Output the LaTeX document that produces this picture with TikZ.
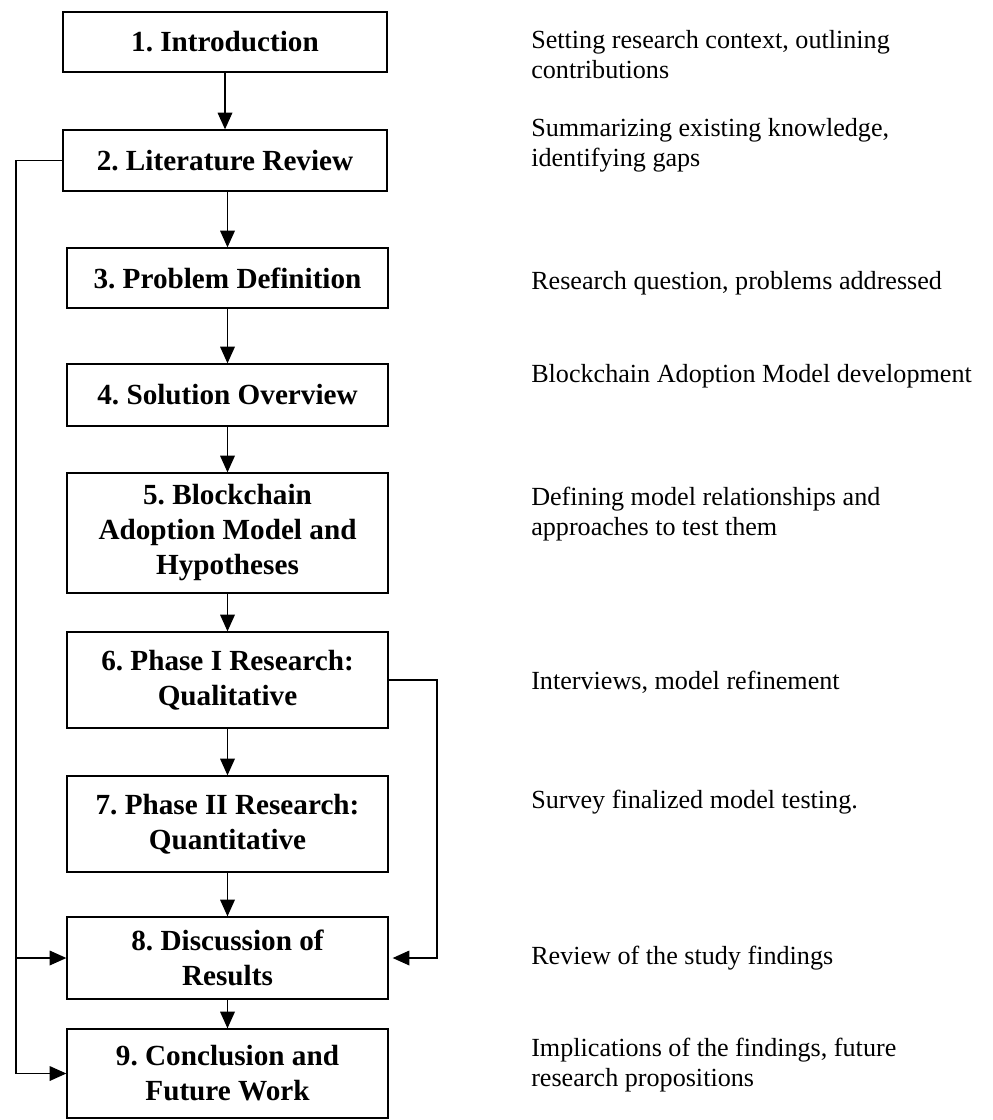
\documentclass[tikz,border=0pt]{standalone}
\usepackage{fontspec}
\setmainfont{Liberation Serif}
\usetikzlibrary{arrows.meta}
\frenchspacing
\begin{document}
\begin{tikzpicture}[x=0.75pt,y=-0.75pt,
  stage/.style={draw,line width=1pt,align=center,inner sep=0pt,
    font=\fontsize{21.9}{26.25}\selectfont\bfseries},
  widestage/.style={stage,minimum width=243pt},
  narrowstage/.style={stage,minimum width=240.75pt},
  note/.style={anchor=west,align=left,inner sep=0pt,
    font=\fontsize{19.6}{22.5}\selectfont},
  flow/.style={line width=0.95pt,-{Triangle[length=12.5pt,width=11pt]}},
  link/.style={line width=0.95pt}]
\useasboundingbox (0,0) rectangle (992,1120);

% chapter boxes
\node[widestage,minimum height=45pt]     (s1) at (225,42)     {1. Introduction};
\node[widestage,minimum height=45.75pt]  (s2) at (225,160.5)  {2. Literature Review};
\node[narrowstage,minimum height=45pt]   (s3) at (227.5,278)  {3. Problem Definition};
\node[narrowstage,minimum height=46.5pt] (s4) at (227.5,395)  {4. Solution Overview};
\node[narrowstage,minimum height=90pt]   (s5) at (227.5,533)  {5. Blockchain\\Adoption Model and\\Hypotheses};
\node[narrowstage,minimum height=72pt]   (s6) at (227.5,680)  {6. Phase I Research:\\Qualitative};
\node[narrowstage,minimum height=72pt]   (s7) at (227.5,824)  {7. Phase II Research:\\Quantitative};
\node[narrowstage,minimum height=61.5pt] (s8) at (227.5,958)  {8. Discussion of\\Results};
\node[narrowstage,minimum height=66.75pt](s9) at (227.5,1073.5){9. Conclusion and\\Future Work};

% chapter descriptions
\node[note] (d1) at (531,55)   {Setting research context, outlining\\contributions};
\node[note] (d2) at (531,145)  {Summarizing existing knowledge,\\identifying gaps};
\node[note] (d3) at (531,283)  {Research question, problems addressed};
\node[note] (d4) at (531,376)  {Blockchain Adoption Model development};
\node[note] (d5) at (531,514)  {Defining model relationships and\\approaches to test them};
\node[note] (d6) at (531,682)  {Interviews, model refinement};
\node[note] (d7) at (531,802)  {Survey finalized model testing.};
\node[note] (d8) at (531,958)  {Review of the study findings};
\node[note] (d9) at (531,1065) {Implications of the findings, future\\research propositions};

% main sequence
\draw[flow] (s1) -- (s2);
\draw[flow] (s2.south -| s3.north) -- (s3.north);
\draw[flow] (s3) -- (s4);
\draw[flow] (s4) -- (s5);
\draw[flow] (s5) -- (s6);
\draw[flow] (s6) -- (s7);
\draw[flow] (s7) -- (s8);
\draw[flow] (s8) -- (s9);

% feedback lines
\coordinate (lx) at (16,0);
\coordinate (rx) at (437,0);
\draw[flow] (s2.west) -| (lx |- s8.west) -- (s8.west);
\draw[flow] (lx |- s8.west) -- (lx |- s9.west) -- (s9.west);
\draw[flow,shorten >=3pt] (s6.east) -- (s6.east -| rx) |- (s8.east);
\end{tikzpicture}
\end{document}
